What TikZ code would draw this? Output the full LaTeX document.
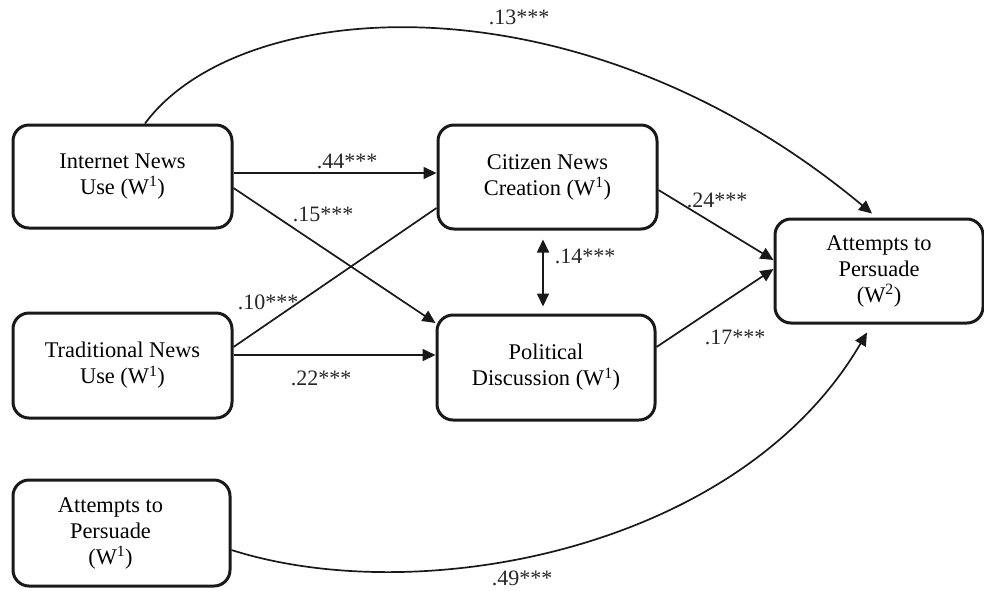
\documentclass[tikz,border=0pt]{standalone}
\usepackage{fontspec}
\setmainfont{Liberation Serif}
\usetikzlibrary{arrows.meta}
\begin{document}
\begin{tikzpicture}[x=1pt,y=-1pt,
  box/.style={draw=black!90,line width=3pt,rounded corners=16pt,align=center,inner sep=0pt,
              font=\fontsize{22.4}{26}\selectfont},
  arr/.style={line width=1.7pt,draw=black!90,-{Triangle[length=13pt,width=12pt]}},
  dblarr/.style={line width=1.7pt,draw=black!90,{Triangle[length=13pt,width=12pt]}-{Triangle[length=13pt,width=12pt]}},
  plain/.style={line width=1.7pt,draw=black!90},
  lbl/.style={inner sep=0pt,font=\fontsize{22}{26}\selectfont,text=black!85}]
\useasboundingbox (0,0) rectangle (984,590);
% boxes
\node[box,minimum width=219pt,minimum height=103pt] (inet) at (122.5,176.5) {Internet News\\Use (W\textsuperscript{1})};
\node[box,minimum width=219pt,minimum height=105pt] (trad) at (122.5,365.5) {Traditional News\\Use (W\textsuperscript{1})};
\node[box,minimum width=217pt,minimum height=106pt] (apw1) at (121.5,533) {\begin{tabular}{@{}c@{}}Attempts to\\Persuade\\(W\textsuperscript{1})\end{tabular}\hspace*{22pt}};
\node[box,minimum width=219pt,minimum height=104pt] (cnc) at (547.5,177) {Citizen News\\Creation (W\textsuperscript{1})};
\node[box,minimum width=218pt,minimum height=105pt] (pd) at (546,367.5) {Political\\Discussion (W\textsuperscript{1})};
\node[box,minimum width=208pt,minimum height=104pt] (apw2) at (879,271) {Attempts to\\Persuade\\(W\textsuperscript{2})};
% connectors
\draw[arr] ([yshift=3.5pt]inet.east) -- ([yshift=4pt]cnc.west);
\draw[arr] ([yshift=-11.5pt]inet.east) -- ([yshift=44.5pt]pd.west);
\draw[plain] ([yshift=18.5pt]trad.east) -- ([yshift=-31pt]cnc.west);
\draw[arr] ([yshift=10.5pt]trad.east) -- ([yshift=12.5pt]pd.west);
\draw[dblarr,shorten <=9pt,shorten >=7pt] ([xshift=-4.5pt]cnc.south) -- ([xshift=-3pt]pd.north);
\draw[arr] ([yshift=-13pt]cnc.east) -- ([yshift=11pt]apw2.west);
\draw[arr] ([yshift=20.5pt]pd.east) -- ([yshift=2pt]apw2.west);
\draw[arr] ([xshift=22.5pt]inet.north) .. controls (240,-5) and (580,-30) .. ([xshift=-7pt,yshift=4pt]apw2.north);
\draw[arr] ([yshift=-17pt]apw1.east) .. controls (420,610) and (740,550) .. ([xshift=-12pt,yshift=-8pt]apw2.south);
% labels
\node[lbl] (l13) at (519,17) {.13***};
\node[lbl] (l44) at (347,161) {.44***};
\node[lbl] (l15) at (323,214) {.15***};
\node[lbl] (l10) at (268,302) {.10***};
\node[lbl] (l22) at (321,378) {.22***};
\node[lbl] (l14) at (585,256) {.14***};
\node[lbl] (l24) at (717,200) {.24***};
\node[lbl] (l17) at (735,337) {.17***};
\node[lbl] (l49) at (522,578) {.49***};
\end{tikzpicture}
\end{document}
